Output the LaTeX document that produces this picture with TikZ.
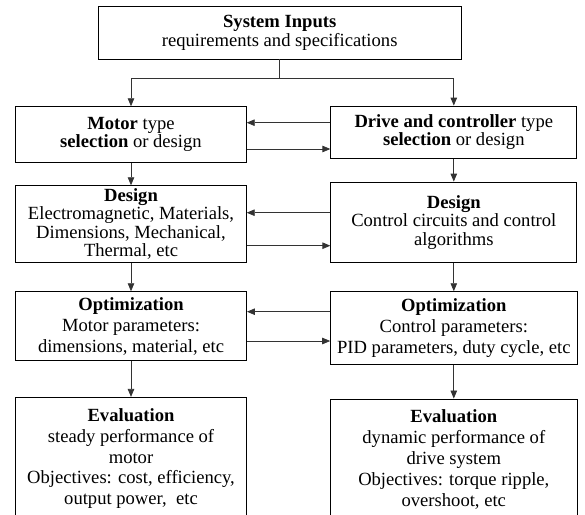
\documentclass[tikz,border=0pt]{standalone}
\usepackage{fontspec}
\setmainfont{Liberation Serif}
\usepackage{tikz}
\usetikzlibrary{positioning, arrows.meta, calc}

\begin{document}
\begin{tikzpicture}[x=1pt, y=-1pt]
          \tikzset{ blk/.style  ={draw=black, line width=0.9pt, rounded corners=0pt, align=center, inner sep=2pt, font=\fontsize{18.6}{18.5}\selectfont} }
          \tikzset{ blkw/.style ={blk, font=\fontsize{18.6}{20.8}\selectfont} }
          \tikzset{ lnk/.style  ={draw=black!80, line width=0.8pt, -{Triangle[length=8pt, width=6.5pt]}} }

          \useasboundingbox (0,0) rectangle (585,514);

          \node[blk ] (inp)  at (279.7, 32.7)  [minimum width=363pt, minimum height=52.5pt] {\textbf{System Inputs}\\requirements and specifications};

          \node[blk ] (mot)  at (131.0, 134.5) [minimum width=230.5pt, minimum height=55.6pt] {\textbf{Motor} type\\\textbf{selection} or design};
          \node[blk ] (drv)  at (453.8, 132.2) [minimum width=246pt, minimum height=52.3pt] {\textbf{Drive and controller} type\\\textbf{selection} or design};

          \node[blk ] (mdes) at (131.0, 224.0) [minimum width=230.5pt, minimum height=76.6pt] {\textbf{Design}\\Electromagnetic, Materials,\\Dimensions, Mechanical,\\Thermal, etc};
          \node[blk ] (ddes) at (453.8, 222.2) [minimum width=246pt, minimum height=80.3pt] {\textbf{Design}\\Control circuits and control\\algorithms};

          \node[blkw] (mopt) at (131.0, 326.2) [minimum width=231pt, minimum height=69pt]   {\textbf{Optimization}\\Motor parameters:\\dimensions, material, etc};
          \node[blkw] (dopt) at (453.8, 328.0) [minimum width=246.3pt, minimum height=72.6pt] {\textbf{Optimization}\\Control parameters:\\PID parameters, duty cycle, etc};

          \node[blkw] (mevl) at (131.0, 458.7) [minimum width=231pt, minimum height=122.7pt] {\textbf{Evaluation}\\steady performance of\\motor\\Objectives: cost, efficiency,\\output power,\ \ etc};
          \node[blkw] (devl) at (453.8, 459.5) [minimum width=246.3pt, minimum height=121pt]   {\textbf{Evaluation}\\dynamic performance of\\drive system\\Objectives: torque ripple,\\overshoot, etc};

          % inputs split to both sides
          \draw[lnk] (inp.south) -- ++(0,19.3) -| (mot.north);
          \draw[lnk] (inp.south) -- ++(0,19.3) -| (drv.north);

          % down the columns
          \draw[lnk] (mot.south)  -- (mdes.north);
          \draw[lnk] (mdes.south) -- (mopt.north);
          \draw[lnk] (mopt.south) -- (mevl.north);
          \draw[lnk] (drv.south)  -- (ddes.north);
          \draw[lnk] (ddes.south) -- (dopt.north);
          \draw[lnk] (dopt.south) -- (devl.north);

          % back and forth between motor and drive
          \draw[lnk] (drv.west  |- 0,122.7) -- (mot.east  |- 0,122.7);
          \draw[lnk] (mot.east  |- 0,149.0) -- (drv.west  |- 0,149.0);
          \draw[lnk] (ddes.west |- 0,212.7) -- (mdes.east |- 0,212.7);
          \draw[lnk] (mdes.east |- 0,245.7) -- (ddes.west |- 0,245.7);
          \draw[lnk] (dopt.west |- 0,311.7) -- (mopt.east |- 0,311.7);
          \draw[lnk] (mopt.east |- 0,341.0) -- (dopt.west |- 0,341.0);
      \end{tikzpicture}
\end{document}
